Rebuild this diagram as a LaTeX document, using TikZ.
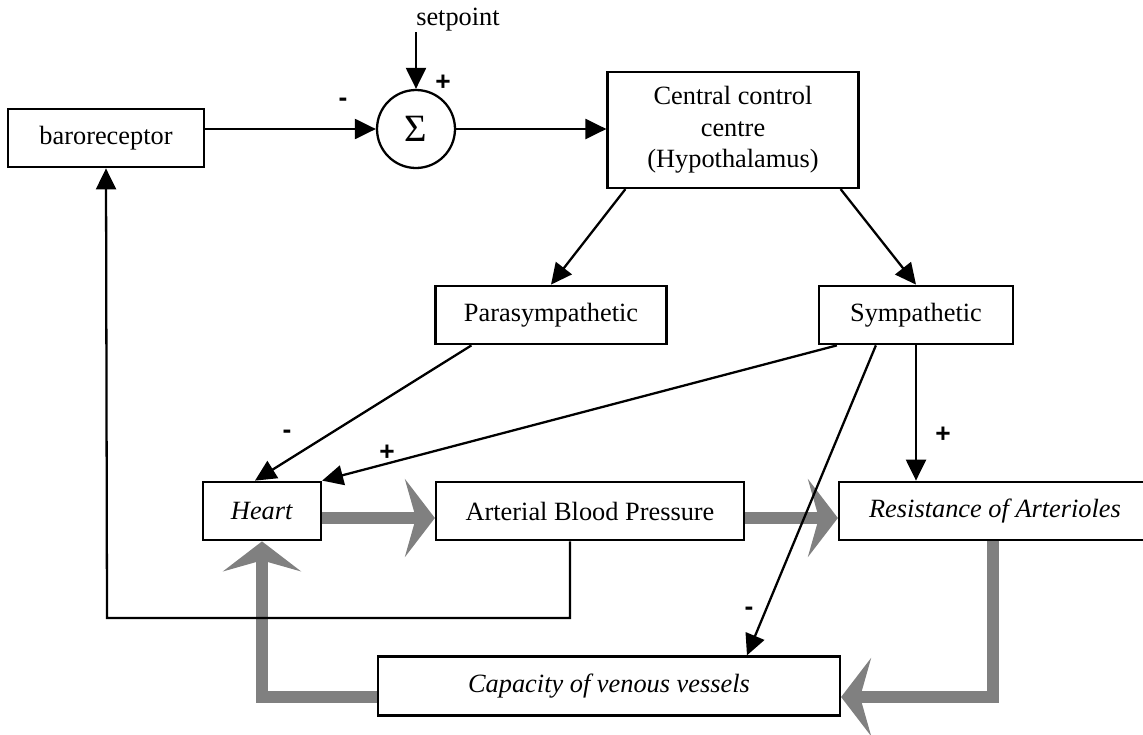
\documentclass[tikz,border=0pt]{standalone}
\usepackage{fontspec}
\setmainfont{Liberation Serif}
\newfontfamily\signfont{Liberation Sans}
\usetikzlibrary{arrows.meta}
\definecolor{flowgrey}{gray}{0.5}
\tikzset{
	blk/.style={draw, line width=1.3pt, minimum height=1.17cm, inner sep=2pt, font=\fontsize{15}{18}\selectfont},
	sig/.style={-{Triangle[length=0.42cm,width=0.4cm]}, line width=1.3pt},
	flow/.style={-{Stealth[length=0.6cm,width=1.56cm,inset=0.22cm]}, line width=6.8pt, draw=flowgrey},
	sgn/.style={font=\fontsize{15}{15}\signfont\bfseries, inner sep=0pt}
}

\begin{document}
\begin{tikzpicture}[x=0.02cm,y=-0.02cm]
		\useasboundingbox (0,0) rectangle (1143,734);
		% blocks
		\node[blk, minimum width=3.92cm] (baro) at (106,138) {baroreceptor};
		\node[draw, circle, line width=1.3pt, minimum size=1.56cm, inner sep=0pt, font=\fontsize{22}{24}\selectfont] (sum) at (416,129) {Σ};
		\node[font=\fontsize{15}{18}\selectfont, inner sep=0pt] (spt) at (458,20) {setpoint};
		\coordinate (sp) at (416,32);
		\node[blk, minimum width=5.02cm, minimum height=2.32cm, align=center] (ctrl) at (733,130) {Central control\\centre\\(Hypothalamus)};
		\node[blk, minimum width=4.62cm] (para) at (551,315) {Parasympathetic};
		\node[blk, minimum width=3.88cm] (symp) at (916,315) {Sympathetic};
		\node[blk, minimum width=2.36cm] (heart) at (262,511) {\textit{Heart}};
		\node[blk, minimum width=6.16cm] (abp) at (590,511) {Arterial Blood Pressure};
		\node[blk, minimum width=6.24cm] (resist) at (995,511) {\textit{Resistance of Arterioles}};
		\node[blk, minimum width=9.24cm, minimum height=1.18cm] (cap) at (609,686) {\textit{Capacity of venous vessels}};
		% signs
		\node[sgn] (m1) at (343,102) {-};
		\node[sgn] (p1) at (443,83) {+};
		\node[sgn] (m2) at (287,434) {-};
		\node[sgn] (p2) at (387,453) {+};
		\node[sgn] (p3) at (943,435) {+};
		\node[sgn] (m3) at (749,611) {-};
		% grey flow arrows
		\draw[flow] ([yshift=-0.14cm]heart.east) -- ([yshift=-0.14cm]abp.west);
		\draw[flow] ([yshift=-0.14cm]abp.east) -- ([yshift=-0.14cm]resist.west);
		\draw[flow] ([xshift=-0.04cm]resist.south) |- ([yshift=-0.22cm]cap.east);
		\draw[flow] ([yshift=-0.22cm]cap.west) -| (heart.south);
		% control loop
		\coordinate (fb) at (107,618);
		\draw[sig] (baro.east |- sum.west) -- (sum.west);
		\draw[sig] (sp) -- (sum.north);
		\draw[sig] (sum.east) -- (sum.east -| ctrl.west);
		\draw[sig] ([xshift=0.38cm]ctrl.south west) -- (para.north);
		\draw[sig] ([xshift=-0.38cm]ctrl.south east) -- (symp.north);
		\draw[sig] ([xshift=0.74cm]para.south west) -- ([xshift=-0.14cm]heart.north);
		\draw[sig] ([xshift=0.38cm]symp.south west) -- (heart.north east);
		\draw[sig] ([xshift=1.16cm]symp.south west) -- ([xshift=2.76cm]cap.north);
		\draw[sig] (symp.south) -- (symp.south |- resist.north);
		\draw[sig] ([xshift=-0.4cm]abp.south) |- (fb) -- (baro.south);
	\end{tikzpicture}
\end{document}
